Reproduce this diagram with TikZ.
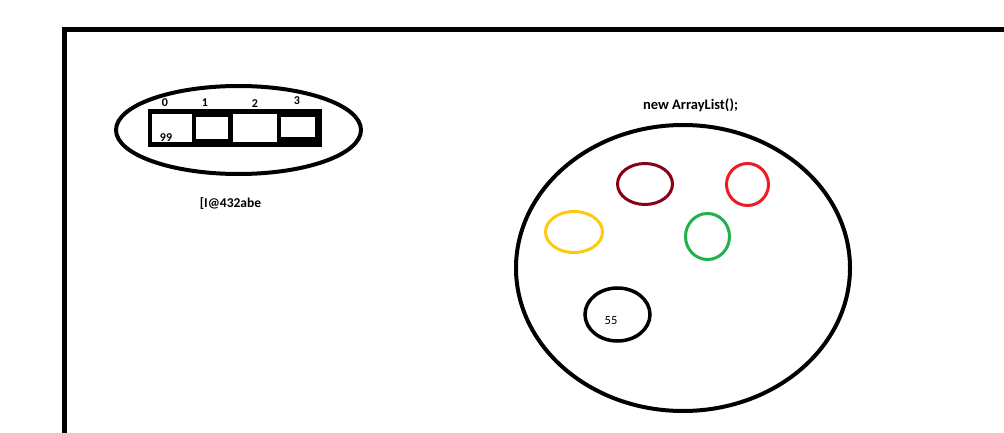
\documentclass[tikz,border=0pt]{standalone}
\usepackage{fontspec}
\setmainfont{Carlito}
\usetikzlibrary{shapes.geometric,positioning}
\definecolor{pdarkred}{HTML}{880015}
\definecolor{pred}{HTML}{ED1C24}
\definecolor{pyellow}{HTML}{FFC90E}
\definecolor{pgreen}{HTML}{22B14C}
\tikzset{
    ring/.style={
        ellipse,
        draw=black,
        line width=3pt,
        inner sep=0pt,
    },
    cell/.style={
        rectangle,
        fill=white,
        inner sep=0pt,
        anchor=north west,
    },
    lbl/.style={
        inner sep=0pt,
        font=\fontsize{12}{14}\selectfont\bfseries,
    },
}

\begin{document}
\begin{tikzpicture}[x=1pt,y=-1pt]
	    \useasboundingbox (0,0) rectangle (1004,433);
	    % frame
	    \coordinate (fb) at (64,433);
	    \coordinate (fc) at (64,30);
	    \coordinate (fr) at (1004,30);
	    \draw [line width=5pt] (fb) -- (fc) -- (fr);
	    % array
	    \node [ring,line width=4pt,minimum width=245pt,minimum height=88pt] (arrring) at (238.5,130) {};
	    \node [rectangle,fill=black,inner sep=0pt,anchor=north west,minimum width=174pt,minimum height=38pt] (arr) at (148,109) {};
	    \node [cell,minimum width=40pt,minimum height=28pt] (c0) at (152,114) {};
	    \node [cell,minimum width=32pt,minimum height=22pt] (c1) at (196,117) {};
	    \node [cell,minimum width=44pt,minimum height=28pt] (c2) at (233,114) {};
	    \node [cell,minimum width=34pt,minimum height=20pt] (c3) at (281,117) {};
	    \node [lbl] (i0) at (165,103) {0};
	    \node [lbl] (i1) at (205,103) {1};
	    \node [lbl] (i2) at (255,104) {2};
	    \node [lbl] (i3) at (297,101) {3};
	    \node [lbl] (v0) at (166,138) {99};
	    \node [lbl,font=\fontsize{13.5}{15}\selectfont\bfseries] (addr) at (230.5,204) {[I@432abe};
	    % list
	    \node [lbl,font=\fontsize{14.5}{16}\selectfont\bfseries] (listlbl) at (690.5,105) {new ArrayList();};
	    \node [ring,line width=4pt,minimum width=334pt,minimum height=286pt] (list) at (683,268) {};
	    \node [ring,draw=pdarkred,minimum width=55pt,minimum height=41pt] (o1) at (645,184) {};
	    \node [ring,draw=pred,minimum width=42pt,minimum height=42pt] (o2) at (747.5,184.5) {};
	    \node [ring,draw=pyellow,minimum width=57pt,minimum height=41pt] (o3) at (574,232) {};
	    \node [ring,draw=pgreen,minimum width=44pt,minimum height=46pt] (o4) at (707.5,236.5) {};
	    \node [ring,line width=3.5pt,minimum width=65pt,minimum height=53pt] (o5) at (617.5,314.5) {};
	    \node [lbl,font=\fontsize{12.5}{14}\selectfont] (v5) at (611,321) {55};
\end{tikzpicture}
\end{document}
